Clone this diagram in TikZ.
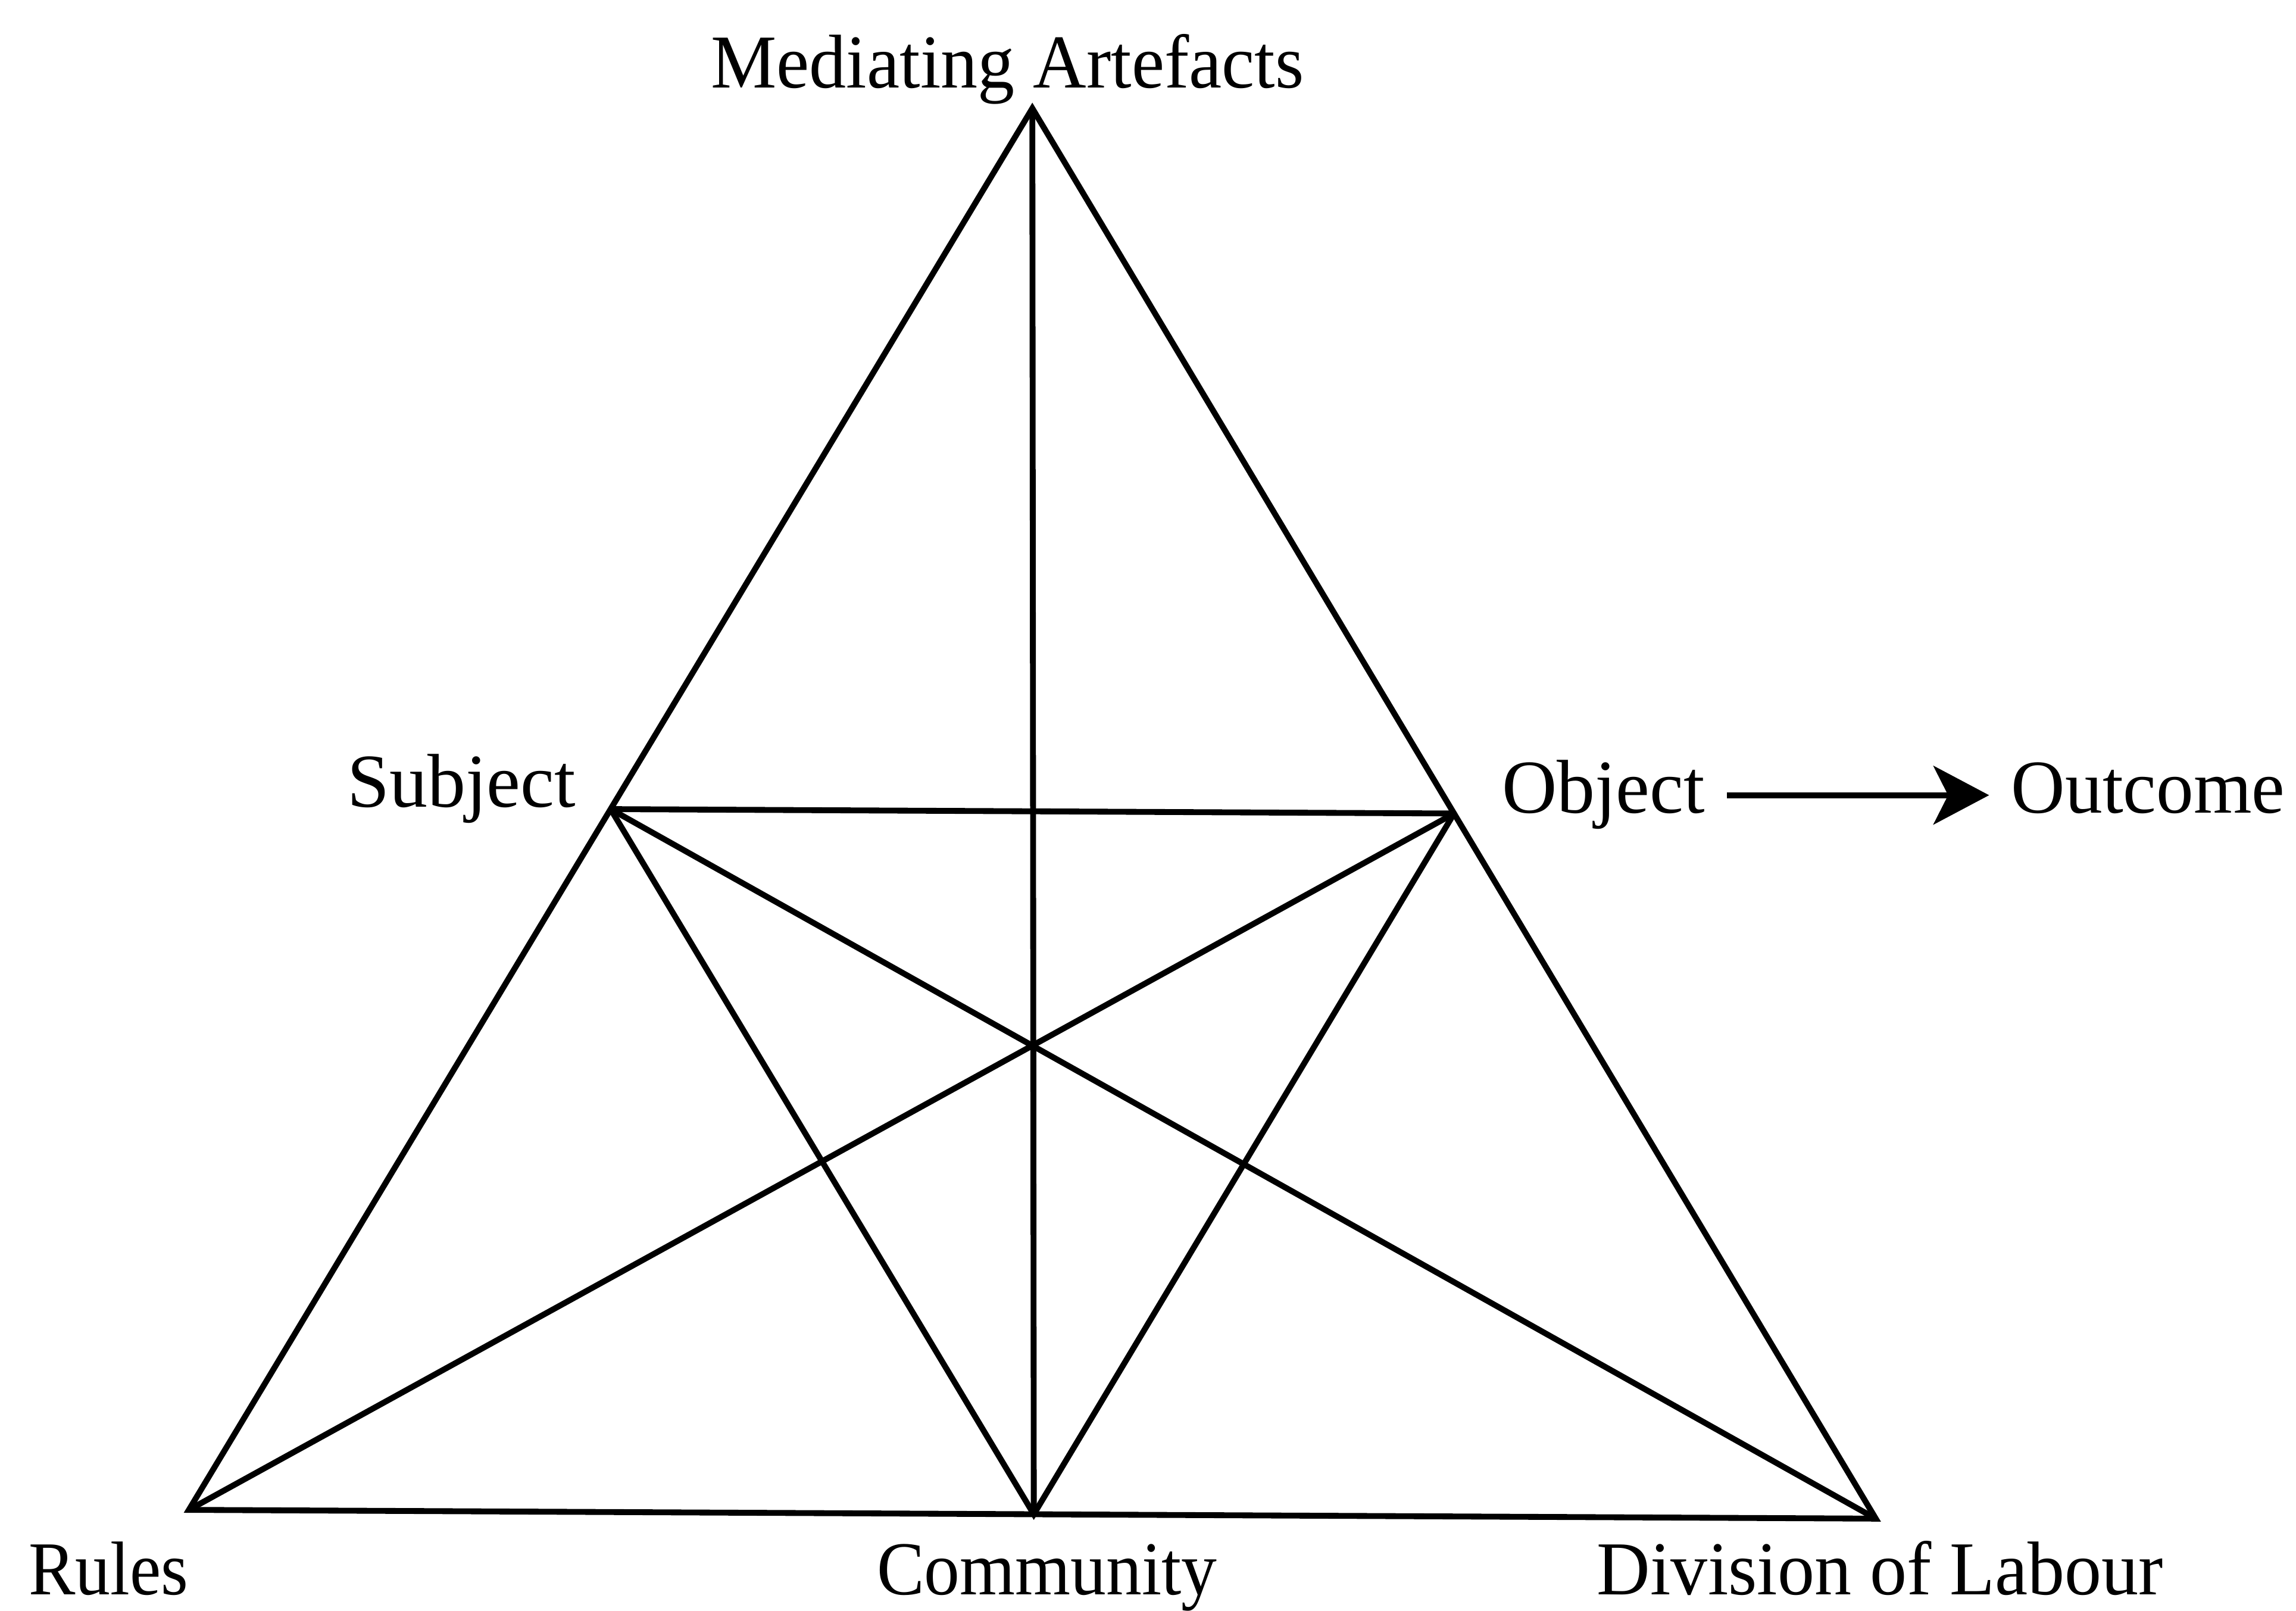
\documentclass[tikz,border=0pt]{standalone}
\usepackage{fontspec}
\setmainfont{Liberation Serif}
\usetikzlibrary{arrows.meta}
\newcommand\squeezed[2]{\scalebox{#1}[1]{#2}}
\begin{document}
\begin{tikzpicture}[x=1pt,y=-1pt,
  edge/.style={line width=4pt,line join=miter,line cap=butt},
  lab/.style={font=\fontsize{52}{60}\selectfont,inner sep=0pt,anchor=base},
  arrlab/.style={lab,text height=36pt,text depth=12pt},
]
\useasboundingbox (0,0) rectangle (1568,1100);

% vertices of the activity triangle
\coordinate (MA) at (705,74);
\coordinate (R)  at (129,1031);
\coordinate (DL) at (1281,1037);
\coordinate (S)  at (417,552.5);
\coordinate (O)  at (993,555.5);
\coordinate (C)  at (706,1034);

% outer triangle
\draw[edge] (MA) -- (R) -- (DL) -- cycle;
% inner connections
\draw[edge] (MA) -- (C);
\draw[edge] (S) -- (O);
\draw[edge] (S) -- (C) -- (O);
\draw[edge] (S) -- (DL);
\draw[edge] (O) -- (R);

% labels
\node[lab] (tMA) at (688,60)   {\squeezed{0.97}{Mediating Artefacts}};
\node[lab] (tS)  at (315,551)  {Subject};
\node[arrlab] (tO)  at (1095,555) {Object};
\node[arrlab] (tOut) at (1467,555) {\squeezed{0.98}{Outcome}};
\node[lab] (tR)  at (74,1089)  {\squeezed{0.92}{Rules}};
\node[lab] (tC)  at (715,1089) {\squeezed{0.935}{Community}};
\node[lab] (tDL) at (1284,1089) {\squeezed{0.97}{Division of Labour}};

\draw[line width=4pt,-{Stealth[length=38pt,width=40pt,inset=10pt]},shorten <=15pt,shorten >=15pt] (tO.east) -- (tOut.west);
\end{tikzpicture}
\end{document}
